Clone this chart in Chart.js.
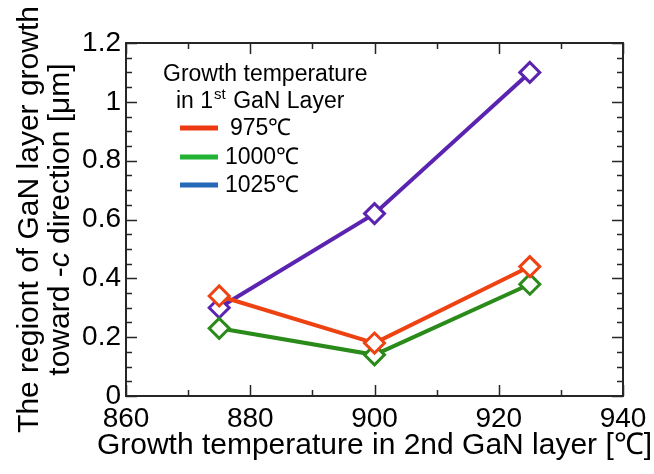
<!DOCTYPE html>
<html>
<head>
<meta charset="utf-8">
<script src="https://cdn.jsdelivr.net/npm/chart.js@4"></script>
<style>
  html, body { margin: 0; padding: 0; background: #fff; }
</style>
</head>
<body>
<canvas id="myChart" width="654" height="474"></canvas>
<script>
// growth temperature of the 2nd GaN layer (x) and region size in µm (y)
const temps2nd = [875, 900, 925]
const seriesLabels = ['975℃', '1000℃', '1025℃']
const region975 = [0.34, 0.18, 0.44]
const region1000 = [0.23, 0.14, 0.38]
const region1025 = [0.30, 0.62, 1.10]
const xTicks = [860, 880, 900, 920, 940]
const yTicks = [0, 0.2, 0.4, 0.6, 0.8, 1, 1.2]

const lineColors = ['#ee4212', '#2a8a1a', '#5a24b0']
const legendColors = ['#ee3a12', '#22b234', '#2468b8']
const FONT = "'Liberation Sans', Arial, sans-serif"

const toPoints = (values) => temps2nd.map((t, i) => ({ x: t, y: values[i] }))

const makeDataset = (label, values, i) => ({
  label,
  data: toPoints(values),
  borderColor: lineColors[i],
  backgroundColor: '#ffffff',
  borderWidth: 4,
  pointStyle: 'rectRot',
  pointRadius: 10,
  pointBorderWidth: 3,
  pointBackgroundColor: '#ffffff',
  pointBorderColor: lineColors[i],
  tension: 0
})

// minor ticks halfway between majors (x) or every quarter (y)
const subdivide = (ticks, parts) => {
  const out = []
  for (let i = 0; i < ticks.length - 1; i++) {
    const step = (ticks[i + 1] - ticks[i]) / parts
    for (let k = 1; k < parts; k++) out.push(ticks[i] + step * k)
  }
  return out
}

const framePlugin = {
  id: 'frame',
  beforeDatasetsDraw (chart) {
    const { ctx, chartArea: a, scales: { x, y } } = chart
    ctx.save()
    ctx.strokeStyle = '#262626'
    ctx.lineWidth = 2
    ctx.strokeRect(a.left, a.top, a.right - a.left, a.bottom - a.top)
    ctx.lineWidth = 1.5
    ctx.beginPath()
    const xMark = (v, len) => {
      const px = Math.round(x.getPixelForValue(v)) + 0.5
      ctx.moveTo(px, a.bottom); ctx.lineTo(px, a.bottom - len)
      ctx.moveTo(px, a.top); ctx.lineTo(px, a.top + len)
    }
    const yMark = (v, len) => {
      const py = Math.round(y.getPixelForValue(v)) + 0.5
      ctx.moveTo(a.left, py); ctx.lineTo(a.left + len, py)
      ctx.moveTo(a.right, py); ctx.lineTo(a.right - len, py)
    }
    xTicks.forEach(v => xMark(v, 11))
    subdivide(xTicks, 2).forEach(v => xMark(v, 6))
    yTicks.forEach(v => yMark(v, 11))
    subdivide(yTicks, 4).forEach(v => yMark(v, 6))
    ctx.stroke()
    ctx.restore()
  },
  afterDraw (chart) {
    const { ctx, chartArea: a } = chart
    ctx.save()
    ctx.fillStyle = '#000'
    ctx.textBaseline = 'middle'

    // x axis title
    ctx.font = `30px ${FONT}`
    ctx.textAlign = 'center'
    ctx.fillText('Growth temperature in 2nd GaN layer [℃]', (a.left + a.right) / 2, 446)

    // y axis title, two rotated lines, "c" in italics
    const cy = (a.top + a.bottom) / 2
    ctx.save()
    ctx.translate(30, cy)
    ctx.rotate(-Math.PI / 2)
    ctx.font = `30px ${FONT}`
    ctx.fillText('The regiont of GaN layer growth', 0, 0)
    ctx.restore()

    ctx.save()
    ctx.translate(61, cy)
    ctx.rotate(-Math.PI / 2)
    const parts = [
      ['toward -', `30px ${FONT}`],
      ['c', `italic 30px ${FONT}`],
      [' direction [μm]', `30px ${FONT}`]
    ]
    let total = 0
    parts.forEach(([t, f]) => { ctx.font = f; total += ctx.measureText(t).width })
    let px = -total / 2
    ctx.textAlign = 'left'
    parts.forEach(([t, f]) => {
      ctx.font = f
      ctx.fillText(t, px, 0)
      px += ctx.measureText(t).width
    })
    ctx.restore()

    // legend block
    ctx.textAlign = 'left'
    ctx.font = `23px ${FONT}`
    ctx.fillText('Growth temperature', 163, 75)
    let lx = 176
    ctx.fillText('in 1', lx, 102)
    lx += ctx.measureText('in 1').width
    ctx.font = `15px ${FONT}`
    ctx.fillText('st', lx + 1, 95)
    lx += ctx.measureText('st').width + 2
    ctx.font = `23px ${FONT}`
    ctx.fillText(' GaN Layer', lx, 102)

    const rows = [128, 157, 185]
    const textX = [230, 225, 225]
    seriesLabels.forEach((label, i) => {
      ctx.strokeStyle = legendColors[i]
      ctx.lineWidth = 5
      ctx.beginPath()
      ctx.moveTo(180, rows[i])
      ctx.lineTo(218, rows[i])
      ctx.stroke()
      ctx.font = `23px ${FONT}`
      ctx.fillText(label, textX[i], rows[i] + 1)
    })
    ctx.restore()
  }
}

const config = {
  type: 'line',
  data: {
    datasets: [
      makeDataset(seriesLabels[0], region975, 0),
      makeDataset(seriesLabels[1], region1000, 1),
      makeDataset(seriesLabels[2], region1025, 2)
    ]
  },
  options: {
    responsive: false,
    animation: false,
    devicePixelRatio: 1,
    layout: {
      padding: { top: 43, right: 31, left: 0, bottom: 0 }
    },
    plugins: {
      legend: { display: false },
      tooltip: { enabled: false }
    },
    scales: {
      x: {
        type: 'linear',
        min: 860,
        max: 940,
        afterBuildTicks: (scale) => { scale.ticks = xTicks.map(v => ({ value: v })) },
        afterFit: (scale) => { scale.height = 78 },
        grid: { display: false, drawTicks: false },
        border: { display: false },
        ticks: {
          color: '#000',
          padding: 6,
          maxRotation: 0,
          font: { family: FONT, size: 28 }
        }
      },
      y: {
        min: 0,
        max: 1.2,
        afterBuildTicks: (scale) => { scale.ticks = yTicks.map(v => ({ value: v })) },
        afterFit: (scale) => { scale.width = 126 },
        grid: { display: false, drawTicks: false },
        border: { display: false },
        ticks: {
          color: '#000',
          padding: 5,
          callback: (v) => String(v),
          font: { family: FONT, size: 28 }
        }
      }
    }
  },
  plugins: [framePlugin]
}

const myChart = new Chart(document.getElementById('myChart'), config)
</script>
</body>
</html>
